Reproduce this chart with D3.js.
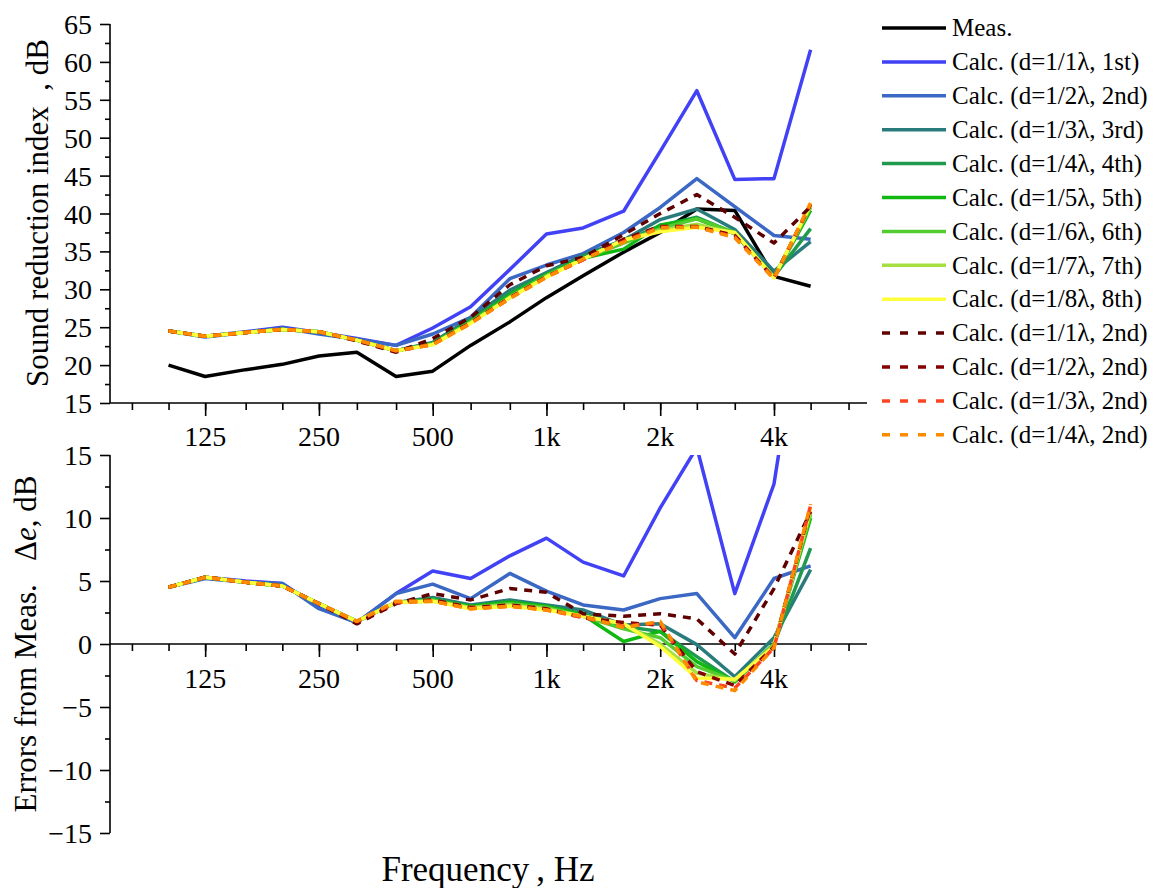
<!DOCTYPE html>
<html>
<head>
<meta charset="utf-8">
<script src="https://cdn.jsdelivr.net/npm/d3@7"></script>
<style>
  body { margin: 0; background: #fff; }
  svg text { font-family: "Liberation Serif", "Times New Roman", serif; fill: #000; }
  .axis path, .axis line { stroke: #000; stroke-width: 1.6px; }
</style>
</head>
<body>
<div id="chart"></div>
<script>
// third-octave band centre frequencies
const freqs = [100, 125, 160, 200, 250, 315, 400, 500, 630, 800, 1000, 1250, 1600, 2000, 2500, 3150, 4000, 5000];
const tickFreqs = [80, 100, 125, 160, 200, 250, 315, 400, 500, 630, 800, 1000, 1250, 1600, 2000, 2500, 3150, 4000, 5000, 6300];
const majorFreqs = [125, 250, 500, 1000, 2000, 4000];
const majorLabels = ['125', '250', '500', '1k', '2k', '4k'];

const names = [
  'Meas.',
  'Calc. (d=1/1λ, 1st)', 'Calc. (d=1/2λ, 2nd)', 'Calc. (d=1/3λ, 3rd)', 'Calc. (d=1/4λ, 4th)',
  'Calc. (d=1/5λ, 5th)', 'Calc. (d=1/6λ, 6th)', 'Calc. (d=1/7λ, 7th)', 'Calc. (d=1/8λ, 8th)',
  'Calc. (d=1/1λ, 2nd)', 'Calc. (d=1/2λ, 2nd)', 'Calc. (d=1/3λ, 2nd)', 'Calc. (d=1/4λ, 2nd)'
];
const colors = ['#000000', '#4141f5', '#3a68c4', '#2a7c7c', '#1f9a4e', '#12b812', '#52cc2e', '#a6e040', '#ffff3c',
  '#5e0000', '#860000', '#ff4422', '#ff8c00'];
const dashed = [false, false, false, false, false, false, false, false, false, true, true, true, true];

// Sound reduction index, dB (top panel)
const meas   = [20.0, 18.5, 19.4, 20.1, 21.2, 21.7, 18.5, 19.2, 22.6, 25.7, 28.9, 31.8, 34.9, 37.5, 40.6, 40.4, 31.7, 30.4];
const r1st   = [24.5, 23.8, 24.4, 25.0, 24.3, 23.5, 22.6, 24.9, 27.7, 32.6, 37.3, 38.1, 40.3, 48.2, 56.2, 44.5, 44.6, 61.6];
const r2nd   = [24.5, 23.7, 24.3, 24.9, 24.1, 23.4, 22.6, 24.1, 26.3, 31.4, 33.2, 34.7, 37.5, 40.8, 44.6, 40.9, 37.1, 36.6];
const r3rd   = [24.5, 23.8, 24.3, 24.7, 24.4, 23.3, 21.9, 23.0, 26.2, 29.9, 32.2, 34.5, 36.5, 39.2, 40.6, 37.9, 32.4, 36.3];
const r4th   = [24.5, 23.8, 24.3, 24.7, 24.4, 23.3, 21.9, 22.9, 25.9, 29.5, 32.0, 34.3, 36.3, 38.4, 39.5, 37.4, 31.7, 38.0];
const r5th   = [24.5, 23.8, 24.3, 24.7, 24.4, 23.3, 21.9, 22.8, 25.8, 29.2, 31.9, 34.1, 35.3, 38.5, 39.3, 37.3, 31.6, 40.4];
const r6th   = [24.5, 23.8, 24.3, 24.7, 24.4, 23.3, 21.9, 22.8, 25.7, 29.0, 31.8, 34.0, 36.1, 38.0, 39.3, 37.5, 31.6, 40.8];
const r7th   = [24.5, 23.8, 24.3, 24.7, 24.4, 23.3, 21.9, 22.7, 25.6, 28.9, 31.7, 34.0, 36.5, 37.8, 38.6, 37.4, 31.6, 41.0];
const r8th   = [24.5, 23.8, 24.3, 24.7, 24.4, 23.3, 21.9, 22.7, 25.5, 28.9, 31.6, 34.0, 36.5, 37.6, 38.2, 37.5, 31.5, 41.2];
const rD1    = [24.5, 23.8, 24.3, 24.7, 24.4, 23.2, 21.7, 23.5, 26.3, 30.6, 33.1, 34.2, 37.2, 40.0, 42.5, 39.5, 36.1, 40.9];
const rD2    = [24.5, 23.8, 24.3, 24.7, 24.4, 23.3, 21.8, 22.8, 25.6, 28.9, 31.7, 33.9, 36.6, 38.3, 38.3, 37.1, 31.5, 41.2];
const rD3    = [24.5, 23.8, 24.3, 24.7, 24.4, 23.3, 21.9, 22.7, 25.5, 28.8, 31.6, 33.9, 36.3, 38.2, 38.2, 36.9, 31.4, 41.3];
const rD4    = [24.5, 23.8, 24.3, 24.7, 24.4, 23.3, 21.9, 22.7, 25.5, 28.8, 31.6, 34.0, 36.2, 38.1, 38.2, 36.8, 31.4, 41.4];

// Errors from Meas., dB (bottom panel); meas has no error curve
const e1st = [4.5, 5.3, 5.0, 4.8, 2.9, 1.7, 4.0, 5.8, 5.2, 7.0, 8.4, 6.5, 5.4, 10.8, 15.6, 4.0, 12.7, 31.2];
const e2nd = [4.5, 5.2, 4.9, 4.8, 2.8, 1.7, 4.0, 4.75, 3.6, 5.6, 4.2, 3.1, 2.7, 3.6, 4.0, 0.5, 5.2, 6.2];
const e3rd = [4.5, 5.3, 4.9, 4.6, 3.2, 1.8, 3.3, 3.7, 3.1, 3.5, 3.1, 2.7, 1.5, 1.6, -0.05, -2.6, 0.5, 5.9];
const e4th = [4.5, 5.3, 4.9, 4.6, 3.2, 1.8, 3.3, 3.6, 3.0, 3.4, 3.0, 2.4, 1.4, 1.0, -1.0, -3.0, 0.0, 7.6];
const e5th = [4.5, 5.3, 4.9, 4.6, 3.2, 1.8, 3.3, 3.5, 3.0, 3.3, 3.0, 2.3, 0.2, 1.0, -1.4, -3.0, 0.0, 10.0];
const e6th = [4.5, 5.3, 4.9, 4.6, 3.2, 1.8, 3.3, 3.5, 2.9, 3.2, 2.9, 2.2, 1.2, 0.5, -1.8, -2.9, 0.0, 10.3];
const e7th = [4.5, 5.3, 4.9, 4.6, 3.2, 1.8, 3.3, 3.4, 2.9, 3.1, 2.8, 2.2, 1.6, 0.0, -2.3, -2.9, -0.1, 10.6];
const e8th = [4.5, 5.3, 4.9, 4.6, 3.2, 1.8, 3.3, 3.4, 2.8, 3.0, 2.7, 2.2, 1.6, -0.2, -2.7, -2.8, -0.2, 10.8];
const eD1  = [4.5, 5.3, 4.9, 4.6, 3.2, 1.6, 3.2, 4.0, 3.5, 4.4, 4.1, 2.4, 2.2, 2.4, 2.0, -0.8, 4.4, 10.5];
const eD2  = [4.5, 5.3, 4.9, 4.6, 3.2, 1.7, 3.3, 3.5, 2.9, 3.1, 2.8, 2.1, 1.7, 1.5, -2.2, -3.3, -0.2, 10.9];
const eD3  = [4.5, 5.3, 4.9, 4.6, 3.2, 1.8, 3.3, 3.4, 2.8, 3.0, 2.7, 2.1, 1.4, 1.7, -2.9, -3.5, -0.3, 11.0];
const eD4  = [4.5, 5.3, 4.9, 4.6, 3.2, 1.8, 3.4, 3.4, 2.8, 3.0, 2.7, 2.2, 1.3, 1.8, -3.0, -3.7, -0.3, 11.1];

const topSeries = [meas, r1st, r2nd, r3rd, r4th, r5th, r6th, r7th, r8th, rD1, rD2, rD3, rD4];
const botSeries = [null, e1st, e2nd, e3rd, e4th, e5th, e6th, e7th, e8th, eD1, eD2, eD3, eD4];

const W = 1161, H = 888;
const svg = d3.select('#chart').append('svg')
  .attr('width', W).attr('height', H);

const x = d3.scaleLog().domain([70, 7050]).range([110, 867]);
const yTop = d3.scaleLinear().domain([15, 65]).range([403, 24]);
const yBot = d3.scaleLinear().domain([-15, 15]).range([833, 455]);

// clip paths for each panel
const defs = svg.append('defs');
defs.append('clipPath').attr('id', 'clipTop').append('rect')
  .attr('x', 110).attr('y', 24).attr('width', 757).attr('height', 379);
defs.append('clipPath').attr('id', 'clipBot').append('rect')
  .attr('x', 110).attr('y', 455).attr('width', 757).attr('height', 378);

function drawXAxis(yPos, labelY) {
  const g = svg.append('g').attr('class', 'axis');
  // minor ticks
  g.append('g').attr('transform', `translate(0,${yPos})`)
    .call(d3.axisBottom(x).tickValues(tickFreqs).tickSize(7).tickFormat(''))
    .call(s => s.select('.domain').remove());
  // major ticks
  g.append('g').attr('transform', `translate(0,${yPos})`)
    .call(d3.axisBottom(x).tickValues(majorFreqs).tickSize(13).tickFormat(''))
    .call(s => s.select('.domain').remove());
  g.append('line').attr('x1', 110).attr('x2', 867).attr('y1', yPos).attr('y2', yPos);
  g.selectAll('text.xl').data(majorFreqs).enter().append('text')
    .attr('class', 'xl')
    .attr('x', d => x(d)).attr('y', labelY)
    .attr('text-anchor', 'middle')
    .style('font-size', '28px')
    .text((d, i) => majorLabels[i]);
}

function drawYAxis(scale, majors, minors) {
  const g = svg.append('g').attr('class', 'axis').attr('transform', 'translate(110,0)');
  g.append('g').call(d3.axisLeft(scale).tickValues(minors).tickSize(5).tickFormat(''))
    .call(s => s.select('.domain').remove());
  const a = g.append('g').call(d3.axisLeft(scale).tickValues(majors).tickSize(10).tickPadding(8).tickFormat(d3.format('d')));
  a.select('.domain').attr('d', `M0,${scale.range()[0]}V${scale.range()[1]}`);
  a.selectAll('text').style('font-size', '28px').attr('dy', '0.34em');
}

drawYAxis(yTop, d3.range(15, 66, 5), d3.range(17.5, 65, 5));
drawYAxis(yBot, d3.range(-15, 16, 5), d3.range(-12.5, 15, 5));
drawXAxis(403, 446);
drawXAxis(yBot(0), 688);

// lines
function drawLines(series, yScale, clip) {
  const line = d3.line().x((d, i) => x(freqs[i])).y(d => yScale(d));
  const g = svg.append('g').attr('clip-path', `url(#${clip})`);
  series.forEach((vals, k) => {
    if (!vals) return;
    g.append('path')
      .datum(vals)
      .attr('d', line)
      .attr('fill', 'none')
      .attr('stroke', colors[k])
      .attr('stroke-width', 3.5)
      .attr('stroke-linejoin', 'round')
      .attr('stroke-dasharray', dashed[k] ? '8,7' : null);
  });
}
drawLines(topSeries, yTop, 'clipTop');
drawLines(botSeries, yBot, 'clipBot');

// axis titles
svg.append('text')
  .attr('transform', 'translate(48,213) rotate(-90)')
  .attr('text-anchor', 'middle')
  .style('font-size', '31px')
  .text('Sound reduction index\u2002, dB');

const t2 = svg.append('text')
  .attr('transform', 'translate(36,644) rotate(-90)')
  .attr('text-anchor', 'middle')
  .style('font-size', '31px');
t2.append('tspan').text('Errors from Meas.\u2002 Δ');
t2.append('tspan').style('font-style', 'italic').text('e');
t2.append('tspan').text(', dB');

svg.append('text')
  .attr('x', 488).attr('y', 881)
  .attr('text-anchor', 'middle')
  .style('font-size', '35px')
  .text('Frequency\u2009, Hz');

// legend
const legend = svg.append('g').attr('transform', 'translate(882,28)');
names.forEach((n, k) => {
  const row = legend.append('g').attr('transform', `translate(0,${k * 33.9})`);
  row.append('line')
    .attr('x1', 0).attr('x2', 64).attr('y1', 0).attr('y2', 0)
    .attr('stroke', colors[k]).attr('stroke-width', 3.5)
    .attr('stroke-dasharray', dashed[k] ? '8,10' : null);
  row.append('text')
    .attr('x', 70).attr('y', 0).attr('dy', '0.33em')
    .style('font-size', '25px')
    .text(n);
});
</script>
</body>
</html>
